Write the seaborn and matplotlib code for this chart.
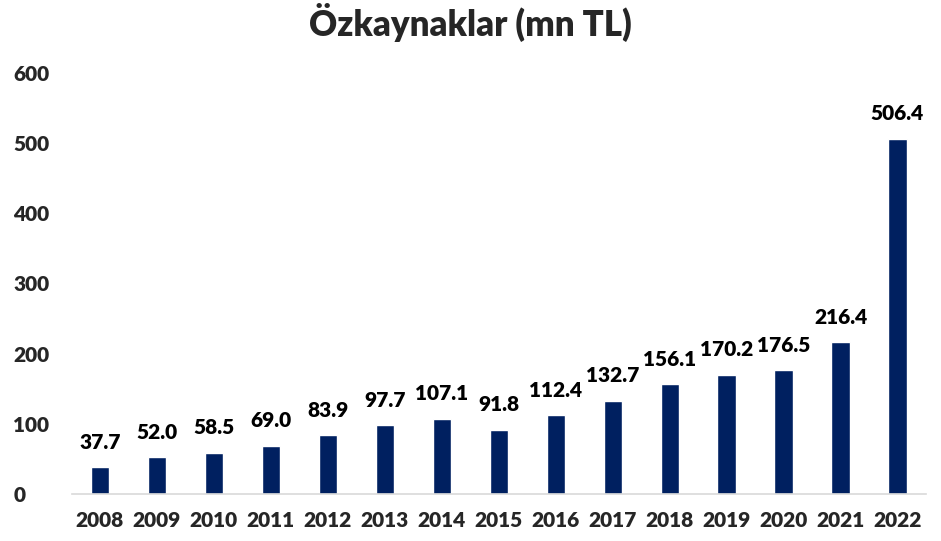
import seaborn as sns
import matplotlib.pyplot as plt
import pandas as pd

# Yearly equity values (mn TL)
years = ['2008', '2009', '2010', '2011', '2012', '2013', '2014', '2015',
         '2016', '2017', '2018', '2019', '2020', '2021', '2022']
values = [37.7, 52.0, 58.5, 69.0, 83.9, 97.7, 107.1, 91.8,
          112.4, 132.7, 156.1, 170.2, 176.5, 216.4, 506.4]
yticks = [0, 100, 200, 300, 400, 500, 600]

df = pd.DataFrame({'Year': years, 'Value': values})

sns.set_style('white')
plt.rcParams['font.family'] = ['Lato', 'DejaVu Sans']
weight = 'heavy'

fig = plt.figure(figsize=(9.41, 5.41), dpi=100)
ax = fig.add_axes([0.076, 0.087, 0.908, 0.778])

sns.barplot(data=df, x='Year', y='Value', color='#002060', width=0.32,
            saturation=1, ax=ax)

for i, v in enumerate(values):
    ax.text(i, v + 22, f'{v:.1f}', ha='center', va='bottom',
            fontsize=15, fontweight=weight, color='black')

ax.set_ylim(0, 600)
ax.set_xlim(-0.5, len(years) - 0.5)
ax.set_yticks(yticks)
ax.set_yticklabels([str(t) for t in yticks], fontsize=15, fontweight=weight)
ax.set_xticklabels(years, fontsize=15, fontweight=weight)
ax.tick_params(axis='x', length=0, pad=12)
ax.tick_params(axis='y', length=0, pad=42)
for lbl in ax.get_yticklabels():
    lbl.set_horizontalalignment('left')
ax.set_xlabel('')
ax.set_ylabel('')

for s in ['top', 'right', 'left']:
    ax.spines[s].set_visible(False)
ax.spines['bottom'].set_color('#d9d9d9')
ax.spines['bottom'].set_linewidth(1.2)

fig.suptitle('Özkaynaklar (mn TL)', fontsize=25, fontweight=weight, y=0.995)

plt.savefig('out.png', dpi=100)
